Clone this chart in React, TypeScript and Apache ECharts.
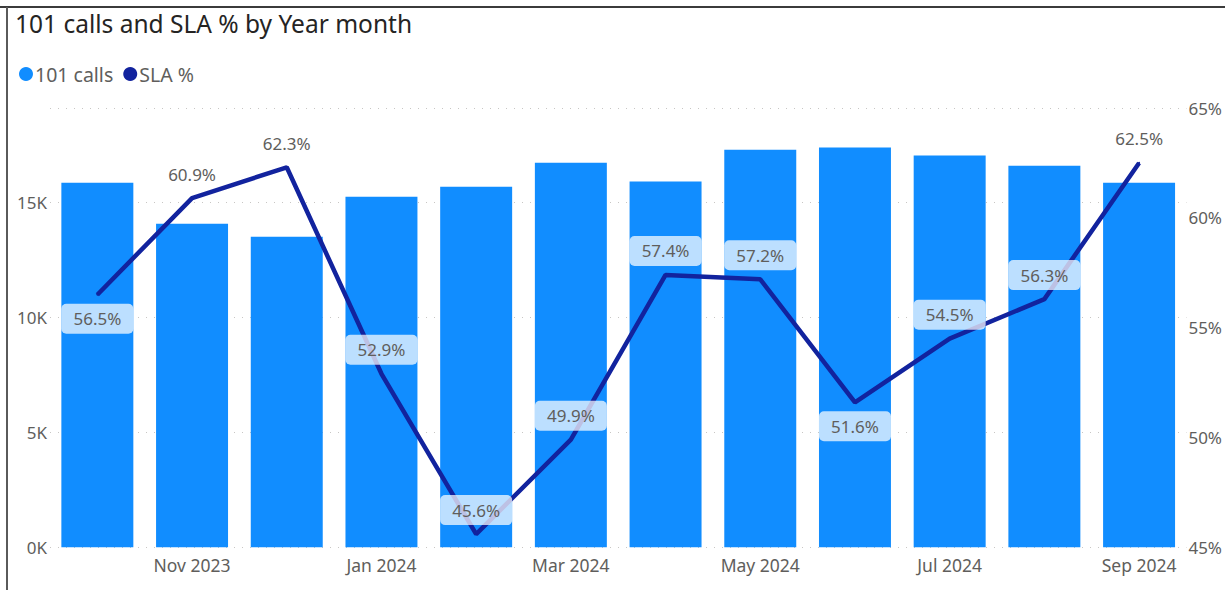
import React, { useEffect, useRef } from "react";
import * as echarts from "echarts";

const months = ["Oct 2023", "Nov 2023", "Dec 2023", "Jan 2024", "Feb 2024", "Mar 2024", "Apr 2024", "May 2024", "Jun 2024", "Jul 2024", "Aug 2024", "Sep 2024"];
const calls = [15850, 14070, 13500, 15240, 15680, 16720, 15900, 17290, 17380, 17030, 16590, 15850];
const sla = [56.5, 60.9, 62.3, 52.9, 45.6, 49.9, 57.4, 57.2, 51.6, 54.5, 56.3, 62.5];
const labelBelow = [true, false, false, false, false, false, false, false, true, false, false, false];
const labelOnBar = [true, false, false, true, true, true, true, true, true, true, true, false];
const leftTicks = ["0K", "5K", "10K", "15K"];

const FONT = "'Noto Sans', 'Open Sans', sans-serif";
const GREY = "#605E5C";

export default function App() {
  const ref = useRef<HTMLDivElement>(null);
  useEffect(() => {
    document.body.style.margin = "0";
    const chart = echarts.init(ref.current!, null, { renderer: "svg" });
    const lineData = sla.map((v, i) => ({
      value: v,
      label: {
        position: labelBelow[i] ? "bottom" : "top",
        backgroundColor: labelOnBar[i] ? "rgba(255,255,255,0.72)" : "transparent",
      },
    }));
    chart.setOption({
      animation: false,
      textStyle: { fontFamily: FONT },
      title: {
        text: "101 calls and SLA % by Year month",
        left: 10,
        top: 6,
        textStyle: { fontFamily: FONT, fontSize: 24.5, fontWeight: "normal", color: "#252423" },
      },
      legend: {
        left: 14,
        top: 59,
        itemGap: 10,
        itemWidth: 14,
        itemHeight: 14,
        icon: "circle",
        textStyle: { fontFamily: FONT, fontSize: 19.5, color: GREY, padding: [0, 0, 0, -3] },
        data: ["101 calls", "SLA %"],
      },
      grid: { left: 50, right: 32, top: 108, bottom: 42.7, containLabel: false },
      xAxis: {
        type: "category",
        data: months,
        axisLine: { show: false },
        axisTick: { show: false },
        axisLabel: {
          interval: (i: number) => i % 2 === 1,
          color: GREY,
          fontSize: 17.5,
          fontFamily: FONT,
          margin: 9,
        },
      },
      yAxis: [
        {
          type: "value",
          min: 0,
          max: 19100,
          interval: 5000,
          axisLabel: {
            color: GREY,
            fontSize: 17,
            fontFamily: FONT,
            margin: 3,
            formatter: (v: number) => (v % 5000 === 0 && v / 5000 < leftTicks.length ? leftTicks[v / 5000] : ""),
          },
          splitLine: { lineStyle: { color: "#C8C6C4", type: [1, 7], width: 1 } },
          axisLine: { show: false },
          axisTick: { show: false },
        },
        {
          type: "value",
          min: 45,
          max: 65,
          interval: 5,
          axisLabel: {
            color: GREY,
            fontSize: 17,
            fontFamily: FONT,
            margin: 2,
            formatter: (v: number) => v + "%",
          },
          splitLine: { show: false },
          axisLine: { show: false },
          axisTick: { show: false },
        },
      ],
      series: [
        {
          name: "101 calls",
          type: "bar",
          data: calls,
          yAxisIndex: 0,
          barCategoryGap: "24%",
          itemStyle: { color: "#118DFF" },
        },
        {
          name: "SLA %",
          type: "line",
          data: lineData,
          yAxisIndex: 1,
          symbol: "circle",
          symbolSize: 2,
          showSymbol: true,
          lineStyle: { color: "#12239E", width: 4.5 },
          itemStyle: { color: "#12239E" },
          label: {
            show: true,
            formatter: (p: any) => p.value.toFixed(1) + "%",
            color: GREY,
            fontSize: 17,
            fontFamily: FONT,
            distance: 8,
            width: 60,
            align: "center",
            lineHeight: 20,
            padding: [5, 6],
            borderRadius: 5,
          },
          labelLayout: { hideOverlap: false },
        },
      ],
      graphic: [
        { type: "line", shape: { x1: 0, y1: 7, x2: 1225, y2: 7 }, style: { stroke: "#3b3b3b", lineWidth: 2 } },
        { type: "line", shape: { x1: 7, y1: 7, x2: 7, y2: 590 }, style: { stroke: "#5a5a5a", lineWidth: 2 } },
      ],
    });
    return () => chart.dispose();
  }, []);
  return <div ref={ref} style={{ width: 1225, height: 590 }} />;
}
